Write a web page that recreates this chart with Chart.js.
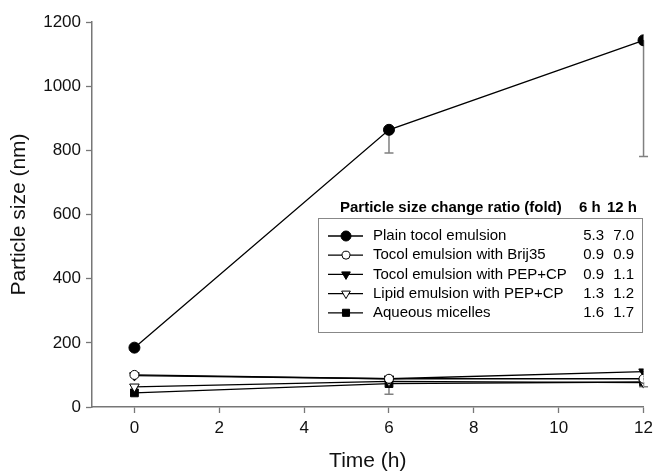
<!DOCTYPE html>
<html><head><meta charset="utf-8">
<script src="https://cdn.jsdelivr.net/npm/chart.js@4.4.1/dist/chart.umd.min.js"></script>
<style>html,body{margin:0;padding:0;background:#fff}#w{width:658px;height:472px}</style>
</head><body><div id="w"><canvas id="c" width="658" height="472"></canvas></div>
<script>
const times = [0, 6, 12];
const xTicks = [0, 2, 4, 6, 8, 10, 12];
const yTicks = [0, 200, 400, 600, 800, 1000, 1200];
const seriesNames = ["Plain tocol emulsion", "Tocol emulsion with Brij35", "Tocol emulsion with PEP+CP", "Lipid emulsion with PEP+CP", "Aqueous micelles"];
const plain = [185, 864, 1143];
const brij35 = [100, 88, 88];
const tocolPep = [98, 88, 110];
const lipidPep = [63, 80, 76];
const micelles = [44, 73, 78];
const plainErr = [0, 72, 362];
const brij35Err = [0, 0, 0];
const tocolPepErr = [0, 0, 0];
const lipidPepErr = [0, 0, 0];
const micellesErr = [0, 33, 15];
const ratio6h = ["5.3", "0.9", "0.9", "1.3", "1.6"];
const ratio12h = ["7.0", "0.9", "1.1", "1.2", "1.7"];
const legendTitle = "Particle size change ratio (fold)";
const col6Title = "6 h";
const col12Title = "12 h";

const FONT = "'Liberation Sans', Arial, sans-serif";
const styles = [
  {pointStyle: 'circle', fill: '#000', rot: 0, r: 5.5},
  {pointStyle: 'circle', fill: '#fff', rot: 0, r: 4.5},
  {pointStyle: 'triangle', fill: '#000', rot: 180, r: 5.5},
  {pointStyle: 'triangle', fill: '#fff', rot: 180, r: 5.5},
  {pointStyle: 'rect', fill: '#000', rot: 0, r: 5.5}
];
const values = [plain, brij35, tocolPep, lipidPep, micelles];
const errs = [plainErr, brij35Err, tocolPepErr, lipidPepErr, micellesErr];

const datasets = values.map((v, i) => ({
  label: seriesNames[i],
  data: times.map((t, j) => ({x: t, y: v[j]})),
  borderColor: '#000',
  borderWidth: 1.3,
  pointStyle: styles[i].pointStyle,
  pointRotation: styles[i].rot,
  pointRadius: styles[i].r,
  pointBackgroundColor: styles[i].fill,
  pointBorderColor: '#000',
  pointBorderWidth: 1,
  fill: false,
  tension: 0
}));

const errorBars = {
  id: 'errorBars',
  beforeDatasetsDraw(chart) {
    const ctx = chart.ctx, xs = chart.scales.x, ys = chart.scales.y;
    ctx.save();
    ctx.strokeStyle = '#808080';
    ctx.lineWidth = 1.5;
    errs.forEach((e, i) => {
      times.forEach((t, j) => {
        if (!e[j]) return;
        const px = xs.getPixelForValue(t);
        const y0 = ys.getPixelForValue(values[i][j]);
        const y1 = ys.getPixelForValue(values[i][j] - e[j]);
        ctx.beginPath();
        ctx.moveTo(px, y0); ctx.lineTo(px, y1);
        ctx.moveTo(px - 4.5, y1); ctx.lineTo(px + 4.5, y1);
        ctx.stroke();
      });
    });
    ctx.restore();
  }
};

const customLegend = {
  id: 'customLegend',
  afterDraw(chart) {
    const ctx = chart.ctx;
    ctx.save();
    ctx.fillStyle = '#000';
    ctx.textBaseline = 'middle';
    ctx.font = "bold 15px " + FONT;
    ctx.textAlign = 'left';
    ctx.fillText(legendTitle, 340, 208);
    ctx.fillText(col6Title, 579, 208);
    ctx.fillText(col12Title, 607, 208);
    ctx.strokeStyle = '#888';
    ctx.lineWidth = 1;
    ctx.strokeRect(318.5, 218.5, 324, 114);
    ctx.font = "15px " + FONT;
    seriesNames.forEach((n, i) => {
      const y = 236 + i * 19.2;
      ctx.strokeStyle = '#000';
      ctx.lineWidth = 1.3;
      ctx.beginPath(); ctx.moveTo(328, y); ctx.lineTo(363, y); ctx.stroke();
      ctx.fillStyle = styles[i].fill;
      ctx.strokeStyle = '#000';
      ctx.lineWidth = 1;
      Chart.helpers.drawPoint(ctx, {pointStyle: styles[i].pointStyle, rotation: styles[i].rot, radius: styles[i].r - 0.5, borderWidth: 1}, 346, y);
      ctx.fillStyle = '#000';
      ctx.textAlign = 'left';
      ctx.fillText(n, 373, y);
      ctx.textAlign = 'right';
      ctx.fillText(ratio6h[i], 604, y);
      ctx.fillText(ratio12h[i], 634, y);
    });
    ctx.restore();
  }
};

new Chart(document.getElementById('c'), {
  type: 'line',
  data: {datasets},
  plugins: [errorBars, customLegend],
  options: {
    responsive: false,
    animation: false,
    layout: {padding: {top: 22, right: 14, left: 0, bottom: 0}},
    plugins: {legend: {display: false}, tooltip: {enabled: false}},
    scales: {
      x: {
        type: 'linear', min: -1, max: 12,
        afterFit(s) { s.height = 65; },
        afterBuildTicks(s) { s.ticks = xTicks.map(v => ({value: v})); },
        grid: {drawOnChartArea: false, tickLength: 6, color: '#777', tickWidth: 1.3},
        border: {color: '#777', width: 1.5},
        ticks: {color: '#111', font: {family: FONT, size: 17}, padding: 5, maxRotation: 0, callback: v => String(v)},
        title: {display: true, text: 'Time (h)', color: '#111', font: {family: FONT, size: 21, lineHeight: 1}, padding: {top: 0, bottom: 0}}
      },
      y: {
        type: 'linear', min: 0, max: 1200,
        afterFit(s) { s.width = 92; },
        afterBuildTicks(s) { s.ticks = yTicks.map(v => ({value: v})); },
        grid: {drawOnChartArea: false, tickLength: 6, color: '#777', tickWidth: 1.3},
        border: {color: '#777', width: 1.5},
        ticks: {color: '#111', font: {family: FONT, size: 17}, padding: 5, callback: v => String(v)},
        title: {display: true, text: 'Particle size (nm)', color: '#111', font: {family: FONT, size: 21, lineHeight: 1}, padding: {top: 9, bottom: 0}}
      }
    }
  }
});
</script></body></html>
